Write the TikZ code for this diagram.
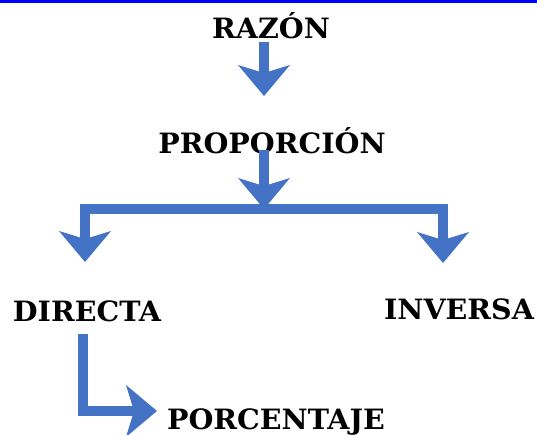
\documentclass[tikz,border=0pt]{standalone}
\usepackage{fontspec}
\setmainfont[FakeStretch=1.02]{DejaVu Serif}
\usetikzlibrary{arrows.meta}

\definecolor{arrowblue}{HTML}{4472C4}
\definecolor{linkblue}{HTML}{0000FF}

\newcommand*{\xMid}{264}
\newcommand*{\xLeft}{85}
\newcommand*{\xRight}{443}
\newcommand*{\yBar}{209}

\tikzset{
  bigtip/.tip={Stealth[length=31pt,width=52pt,inset=8pt,line width=0pt]},
  word/.style={font=\bfseries\fontsize{28}{30}\selectfont, inner sep=0pt, anchor=base},
  flow/.style={arrowblue, line width=10pt, -bigtip},
}

\begin{document}
\begin{tikzpicture}[x=1pt,y=-1pt]
\useasboundingbox (0,0) rectangle (537,435);

% cut off link at the top
\draw[linkblue, line width=3pt] (0,2) -- (537,2);

% words
\node[word] (R) at (271,39) {RAZÓN};
\node[word] (P) at (272,154) {PROPORCIÓN};
\node[word] (D) at (87,321) {DIRECTA};
\node[word] (I) at (459,319) {INVERSA};
\node[word] (C) at (276,429) {PORCENTAJE};

% arrow ends
\coordinate (r1) at (\xMid,42);
\coordinate (r2) at (\xMid,96);
\coordinate (p1) at (\xMid,150);
\coordinate (p2) at (\xMid,\yBar);
\coordinate (d1) at (\xLeft,262);
\coordinate (i1) at (\xRight,263);
\coordinate (d2) at (83,334);
\coordinate (c1) at (157,411);

% arrows
\draw[flow] (r1) -- (r2);
\draw[flow] (p1) -- (p2);
\draw[flow, bigtip-bigtip] (d1) -- (\xLeft,\yBar) -- (\xRight,\yBar) -- (i1);
\draw[flow] (d2) |- (c1);

\end{tikzpicture}
\end{document}
